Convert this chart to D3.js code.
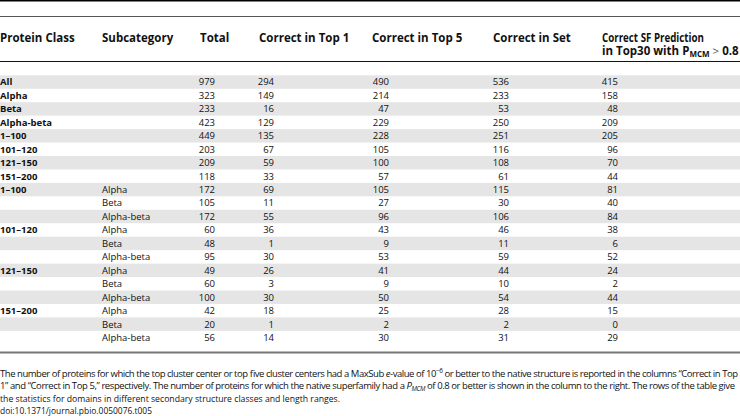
<!DOCTYPE html>
<html>
<head>
<meta charset="utf-8">
<script src="https://cdn.jsdelivr.net/npm/d3@7"></script>
<style>
  body { margin: 0; background: #fff; }
  svg text { font-family: "Open Sans", sans-serif; fill: #111; }
</style>
</head>
<body>
<div id="chart"></div>
<script>
// table data, one array per column
const proteinClass = ["All", "Alpha", "Beta", "Alpha-beta", "1–100", "101–120", "121–150", "151–200",
    "1–100", "", "", "101–120", "", "", "121–150", "", "", "151–200", "", ""];
const subcategory = ["", "", "", "", "", "", "", "",
    "Alpha", "Beta", "Alpha-beta", "Alpha", "Beta", "Alpha-beta", "Alpha", "Beta", "Alpha-beta", "Alpha", "Beta", "Alpha-beta"];
const total = [979, 323, 233, 423, 449, 203, 209, 118, 172, 105, 172, 60, 48, 95, 49, 60, 100, 42, 20, 56];
const top1 = [294, 149, 16, 129, 135, 67, 59, 33, 69, 11, 55, 36, 1, 30, 26, 3, 30, 18, 1, 14];
const top5 = [490, 214, 47, 229, 228, 105, 100, 57, 105, 27, 96, 43, 9, 53, 41, 9, 50, 25, 2, 30];
const inSet = [536, 233, 53, 250, 251, 116, 108, 61, 115, 30, 106, 46, 11, 59, 44, 10, 54, 28, 2, 31];
const sfPred = [415, 158, 48, 209, 205, 96, 70, 44, 81, 40, 84, 38, 6, 52, 24, 2, 44, 15, 0, 29];

const headers = ["Protein Class", "Subcategory", "Total", "Correct in Top 1", "Correct in Top 5", "Correct in Set"];

window.onload = init;

function init()
{
    const width = 740, height = 416;

    const svg = d3.select("#chart").append("svg")
        .attr("width", width)
        .attr("height", height);

    const rows = d3.range(total.length);
    const y = d3.scaleBand().domain(rows).range([75.3, 344.3]);       // one band per table row

    // shaded stripes on every other row
    svg.selectAll("rect.stripe")
        .data(rows.filter(i => i % 2 === 0))
        .enter().append("rect")
        .attr("class", "stripe")
        .attr("x", 0)
        .attr("width", width)
        .attr("y", i => y(i))
        .attr("height", y.bandwidth())
        .attr("fill", "#e5e5e5");

    // rules
    const rule = (yy, w, c) => svg.append("line")
        .attr("x1", 0).attr("x2", width)
        .attr("y1", yy).attr("y2", yy)
        .attr("stroke", c).attr("stroke-width", w);
    rule(0.75, 1.5, "#000");
    rule(16.5, 1, "#555");
    rule(61.5, 1.2, "#111");
    rule(352.5, 2, "#777");

    // header
    const headX = [0, 102, 200, 259, 372, 493];
    const head = svg.append("g")
        .style("font-weight", "bold")
        .style("font-size", "11.5px");
    head.selectAll("text")
        .data(headers)
        .enter().append("text")
        .attr("x", (d, i) => headX[i])
        .attr("y", 41.5)
        .text(d => d);
    head.append("text").attr("x", 602).attr("y", 41.5)
        .attr("textLength", 102).attr("lengthAdjust", "spacingAndGlyphs")
        .text("Correct SF Prediction");
    const h2 = head.append("text").attr("x", 602).attr("y", 55);
    h2.append("tspan").text("in Top30 with P");
    h2.append("tspan").attr("dy", 2).style("font-size", "8px").text("MCM");
    h2.append("tspan").attr("dy", -2).style("font-weight", "normal").style("fill", "#555").text(" > ");
    h2.append("tspan").text("0.8");

    // body
    const body = svg.append("g").style("font-size", "9.5px");
    const baseline = i => y(i) + y.bandwidth() / 2 + 3.4;

    body.selectAll("text.cls")
        .data(rows.filter(i => proteinClass[i] !== ""))
        .enter().append("text")
        .attr("class", "cls")
        .attr("x", 0)
        .attr("y", baseline)
        .style("font-weight", "bold")
        .text(i => proteinClass[i]);

    body.selectAll("text.sub")
        .data(rows.filter(i => subcategory[i] !== ""))
        .enter().append("text")
        .attr("class", "sub")
        .attr("x", 102)
        .attr("y", baseline)
        .text(i => subcategory[i]);

    const numCols = [
        { values: total, right: 215 },
        { values: top1, right: 274 },
        { values: top5, right: 389 },
        { values: inSet, right: 509 },
        { values: sfPred, right: 618 }
    ];
    numCols.forEach(col => {
        body.append("g").selectAll("text")
            .data(rows)
            .enter().append("text")
            .attr("x", col.right)
            .attr("y", baseline)
            .attr("text-anchor", "end")
            .text(i => col.values[i]);
    });

    // caption, first two lines justified to the reference widths
    const cap = svg.append("g").style("font-size", "9.5px");
    const c1 = cap.append("text").attr("x", 0).attr("y", 376.5)
        .attr("textLength", 738).attr("lengthAdjust", "spacing");
    c1.append("tspan").text("The number of proteins for which the top cluster center or top five cluster centers had a MaxSub ");
    c1.append("tspan").style("font-style", "italic").text("e");
    c1.append("tspan").text("-value of 10");
    c1.append("tspan").attr("dy", -3.5).style("font-size", "6.5px").text("−6");
    c1.append("tspan").attr("dy", 3.5).text(" or better to the native structure is reported in the columns “Correct in Top");

    const c2 = cap.append("text").attr("x", 0).attr("y", 389)
        .attr("textLength", 735).attr("lengthAdjust", "spacing");
    c2.append("tspan").text("1” and “Correct in Top 5,” respectively. The number of proteins for which the native superfamily had a ");
    c2.append("tspan").style("font-style", "italic").text("P");
    c2.append("tspan").attr("dy", 2).style("font-size", "6.5px").style("font-style", "italic").text("MCM");
    c2.append("tspan").attr("dy", -2).text(" of 0.8 or better is shown in the column to the right. The rows of the table give");

    cap.append("text").attr("x", 0).attr("y", 401.5)
        .attr("textLength", 340).attr("lengthAdjust", "spacingAndGlyphs")
        .text("the statistics for domains in different secondary structure classes and length ranges.");
    cap.append("text").attr("x", 0).attr("y", 414)
        .attr("textLength", 152).attr("lengthAdjust", "spacingAndGlyphs")
        .text("doi:10.1371/journal.pbio.0050076.t005");
}
</script>
</body>
</html>
